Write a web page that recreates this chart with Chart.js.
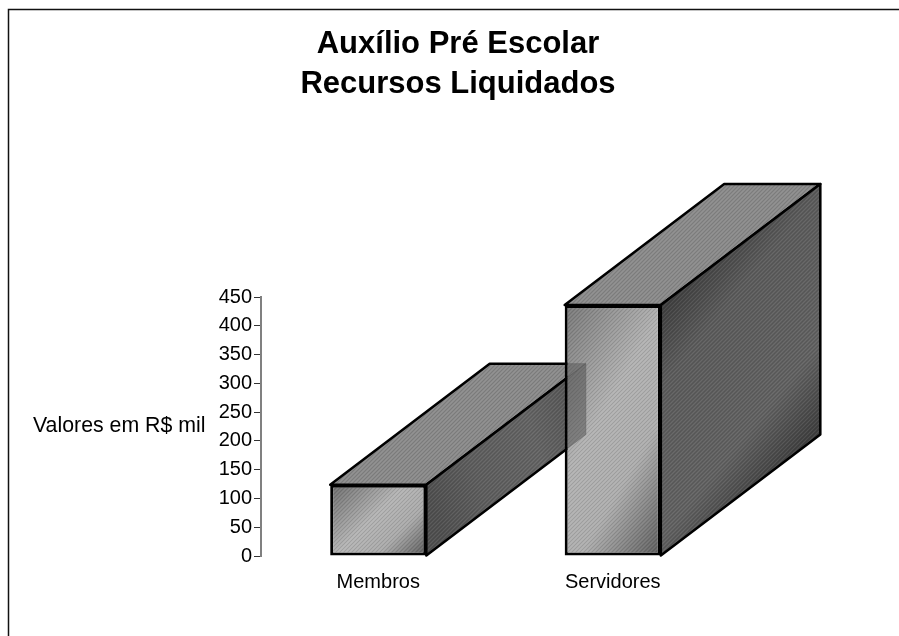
<!DOCTYPE html>
<html>
<head>
<meta charset="utf-8">
<style>html,body{margin:0;padding:0;background:#fff}canvas{display:block}</style>
<script src="https://cdn.jsdelivr.net/npm/chart.js@4"></script>
</head>
<body>
<canvas id="c" width="899" height="636"></canvas>
<script>
const categories = ['Membros', 'Servidores'];
const values = [124, 436];
const titleLines = ['Auxílio Pré Escolar', 'Recursos Liquidados'];
const axisCaption = 'Valores em R$ mil';
const tickStep = 50;
const axisMax = 450;

const FONT = '"Liberation Sans", Arial, sans-serif';
const DX = 159.5, DY = -121;
const BAR_SHARE = 0.41;

function hatch(ctx) {
  const t = document.createElement('canvas');
  t.width = 4; t.height = 4;
  const g = t.getContext('2d');
  g.fillStyle = 'rgba(0,0,0,0.10)';
  [[0,3],[1,2],[2,1],[3,0]].forEach(p => g.fillRect(p[0], p[1], 1, 1));
  g.fillStyle = 'rgba(255,255,255,0.07)';
  [[0,1],[1,0],[2,3],[3,2]].forEach(p => g.fillRect(p[0], p[1], 1, 1));
  return ctx.createPattern(t, 'repeat');
}
function grad(ctx, x0, y0, x1, y1, stops) {
  const g = ctx.createLinearGradient(x0, y0, x1, y1);
  stops.forEach(s => g.addColorStop(s[0], s[1]));
  return g;
}
function boxOf(el) {
  const w = el.width;
  return { l: el.x - w / 2, r: el.x + w / 2, t: el.y, b: el.base };
}
function poly(ctx, pts) {
  ctx.beginPath();
  pts.forEach((p, i) => i ? ctx.lineTo(p[0], p[1]) : ctx.moveTo(p[0], p[1]));
  ctx.closePath();
}
function topPts(b) { return [[b.l,b.t],[b.l+DX,b.t+DY],[b.r+DX,b.t+DY],[b.r,b.t]]; }
function sidePts(b) { return [[b.r,b.t],[b.r+DX,b.t+DY],[b.r+DX,b.b+DY],[b.r,b.b]]; }

const SIDE_STOPS = [
  [[0,'#505050'],[0.3,'#5e5e5e'],[0.7,'#646464'],[1,'#565656']],
  [[0,'#3e3e3e'],[0.25,'#5c5c5c'],[0.72,'#626262'],[1,'#3c3c3c']]
];

const box3d = {
  id: 'box3d',
  beforeDatasetsDraw(chart) {
    const ctx = chart.ctx, pat = hatch(ctx);
    ctx.save();
    ctx.lineWidth = 2.5; ctx.lineJoin = 'round'; ctx.strokeStyle = '#000';
    chart.getDatasetMeta(0).data.forEach((el, i) => {
      const b = boxOf(el);
      poly(ctx, topPts(b));
      ctx.fillStyle = '#8a8a8a'; ctx.fill();
      ctx.fillStyle = pat; ctx.fill();
      ctx.stroke();
      poly(ctx, sidePts(b));
      ctx.fillStyle = grad(ctx, b.r, b.t, b.r + DX, b.b + DY, SIDE_STOPS[i]);
      ctx.fill();
      ctx.fillStyle = pat; ctx.fill();
      ctx.stroke();
    });
    ctx.restore();
  },
  afterDatasetsDraw(chart) {
    const ctx = chart.ctx, pat = hatch(ctx);
    const els = chart.getDatasetMeta(0).data;
    ctx.save();
    els.forEach(el => {
      const b = boxOf(el);
      ctx.fillStyle = pat;
      ctx.fillRect(b.l + 3, b.t + 3, b.r - b.l - 6, b.b - b.t - 6);
    });
    const a = boxOf(els[0]), s = boxOf(els[1]);
    ctx.beginPath();
    ctx.rect(s.l + 3, s.t + 3, s.r - s.l - 6, s.b - s.t - 6);
    ctx.clip();
    ctx.lineWidth = 1;
    ctx.strokeStyle = 'rgba(90,90,90,0.45)';
    poly(ctx, topPts(a));
    ctx.fillStyle = 'rgba(70,70,70,0.40)'; ctx.fill(); ctx.stroke();
    poly(ctx, sidePts(a));
    ctx.fillStyle = 'rgba(60,60,60,0.42)'; ctx.fill(); ctx.stroke();
    ctx.restore();
  },
  afterDraw(chart) {
    const ctx = chart.ctx;
    ctx.save();
    ctx.strokeStyle = '#111'; ctx.lineWidth = 1.5;
    ctx.beginPath();
    ctx.moveTo(899, 9.5); ctx.lineTo(8.5, 9.5); ctx.lineTo(8.5, 636);
    ctx.stroke();
    ctx.fillStyle = '#000';
    ctx.font = '21.3px ' + FONT;
    ctx.textAlign = 'left'; ctx.textBaseline = 'middle';
    ctx.fillText(axisCaption, 33, 426);
    ctx.restore();
  }
};

new Chart(document.getElementById('c'), {
  type: 'bar',
  plugins: [box3d],
  data: {
    labels: categories,
    datasets: [{
      data: values,
      barPercentage: BAR_SHARE,
      categoryPercentage: 1,
      borderColor: '#000',
      borderWidth: 3,
      borderSkipped: false,
      backgroundColor(c) {
        const sx = c.chart.scales.x, sy = c.chart.scales.y;
        if (!sx || !sy || c.dataIndex === undefined) return '#999';
        const half = sx.width / categories.length * BAR_SHARE / 2;
        const mid = sx.getPixelForTick(c.dataIndex);
        const top = sy.getPixelForValue(values[c.dataIndex]);
        const base = sy.getPixelForValue(0);
        if (![half, mid, top, base].every(Number.isFinite)) return '#999';
        const l = mid - half, ctx = c.chart.ctx;
        if (c.dataIndex === 0) {
          const cy = (top + base) / 2;
          return grad(ctx, mid - 41, cy - 41, mid + 41, cy + 41,
            [[0,'#6c6c6c'],[0.45,'#b4b4b4'],[0.7,'#ababab'],[1,'#5a5a5a']]);
        }
        return grad(ctx, l, top, l + 179, top + 107,
          [[0,'#787878'],[0.42,'#b2b2b2'],[0.68,'#aeaeae'],[1,'#5e5e5e']]);
      }
    }]
  },
  options: {
    responsive: false,
    animation: false,
    devicePixelRatio: 1,
    layout: { padding: { left: 186, right: 169, top: 0, bottom: 0 } },
    plugins: {
      legend: { display: false },
      tooltip: { enabled: false },
      title: {
        display: true,
        text: titleLines,
        color: '#000',
        font: { family: FONT, size: 31, weight: 'bold', lineHeight: 40 / 31 },
        padding: { top: 24, bottom: 193 }
      }
    },
    scales: {
      x: {
        afterFit(s) { s.height = 80; },
        grid: { display: false, drawTicks: false },
        border: { display: false },
        ticks: { color: '#000', padding: 14, font: { family: FONT, size: 20 } }
      },
      y: {
        min: 0,
        max: axisMax,
        afterFit(s) { s.width = 75; },
        grid: { drawOnChartArea: false, tickLength: 7, tickColor: '#333', tickWidth: 1 },
        border: { display: true, color: '#808080', width: 2 },
        ticks: { stepSize: tickStep, color: '#000', padding: 2, font: { family: FONT, size: 20 } }
      }
    }
  }
});
</script>
</body>
</html>
